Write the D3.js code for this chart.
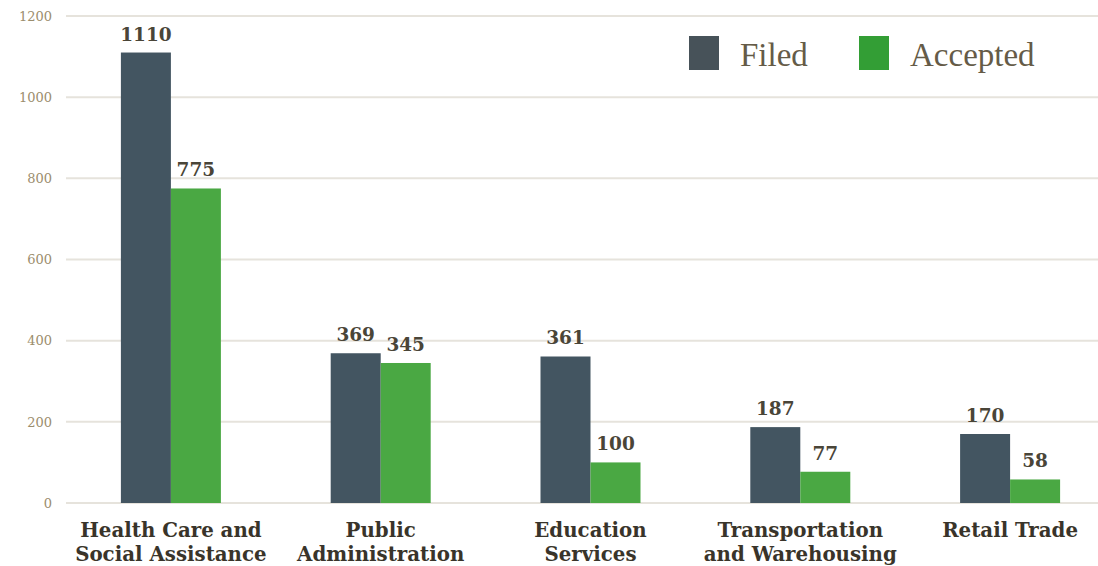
<!DOCTYPE html>
<html><head><meta charset="utf-8">
<script src="https://cdn.jsdelivr.net/npm/d3@7"></script>
<style>body{margin:0;background:#fff}svg{display:block}</style>
</head><body>
<svg id="chart" width="1098" height="566"></svg>
<script>
const categories = [["Health Care and","Social Assistance"],["Public","Administration"],["Education","Services"],["Transportation","and Warehousing"],["Retail Trade"]];
const seriesNames = ["Filed","Accepted"];
const filed = [1110,369,361,187,170];
const accepted = [775,345,100,77,58];
const yTicks = [0,200,400,600,800,1000,1200];
const barColors = ["#435561","#4aa843"];
const legendColors = ["#475259","#339e35"];

const svg = d3.select("#chart");
const catKeys = categories.map(c=>c.join(" "));
const x = d3.scaleBand().domain(catKeys).range([66,1115]).padding(0);
const x1 = d3.scaleBand().domain(seriesNames).range([x.bandwidth()/2-50, x.bandwidth()/2+50]).padding(0);
const y = d3.scaleLinear().domain([0,1200]).range([503,16]);

// gridlines
svg.append("g").selectAll("line").data(yTicks).join("line")
  .attr("x1",66).attr("x2",1098).attr("y1",d=>y(d)).attr("y2",d=>y(d))
  .attr("stroke","#e6e3dc").attr("stroke-width",2);

// y tick labels
const yAxis = d3.axisLeft(y).tickValues(yTicks).tickFormat(d3.format("d")).tickSize(0).tickPadding(0);
const ga = svg.append("g").attr("transform","translate(52,0)").call(yAxis);
ga.select(".domain").remove();
ga.selectAll("text").attr("font-family","Georgia, 'DejaVu Serif', serif").attr("font-size",13).attr("fill","#9b8d6d");

const data = catKeys.map((k,i)=>({key:k, vals:[{s:"Filed",v:filed[i]},{s:"Accepted",v:accepted[i]}]}));
const g = svg.append("g").selectAll("g").data(data).join("g").attr("transform",d=>`translate(${x(d.key)},0)`);
g.selectAll("rect").data(d=>d.vals).join("rect")
  .attr("x",d=>x1(d.s)).attr("width",x1.bandwidth())
  .attr("y",d=>y(d.v)).attr("height",d=>y(0)-y(d.v))
  .attr("fill",(d,i)=>barColors[i]);
g.selectAll("text.val").data(d=>d.vals).join("text").attr("class","val")
  .attr("x",d=>x1(d.s)+x1.bandwidth()/2).attr("y",d=>y(d.v)-12)
  .attr("text-anchor","middle").attr("font-family","Georgia, 'DejaVu Serif', serif")
  .attr("font-weight","bold").attr("font-size",18.5).attr("fill","#4a4538")
  .text(d=>d.v);

// category labels
const xl = svg.append("g").selectAll("text").data(categories).join("text")
  .attr("x",(d,i)=>x(catKeys[i])+x.bandwidth()/2).attr("y",537)
  .attr("text-anchor","middle").attr("font-family","Georgia, 'DejaVu Serif', serif")
  .attr("font-weight","bold").attr("font-size",19.8).attr("fill","#39342a");
xl.selectAll("tspan").data(d=>d).join("tspan")
  .attr("x",function(){return this.parentNode.getAttribute("x");})
  .attr("dy",(d,i)=>i===0?0:24).text(d=>d);

// legend
const legX = [689,859];
const lg = svg.append("g").selectAll("g").data(seriesNames).join("g");
lg.append("rect").attr("x",(d,i)=>legX[i]).attr("y",36).attr("width",30).attr("height",34).attr("fill",(d,i)=>legendColors[i]);
lg.append("text").attr("x",(d,i)=>legX[i]+51).attr("y",66)
  .attr("font-family","'Liberation Serif', 'Times New Roman', serif").attr("font-size",33).attr("fill","#655b47")
  .text(d=>d);
</script>
</body></html>
